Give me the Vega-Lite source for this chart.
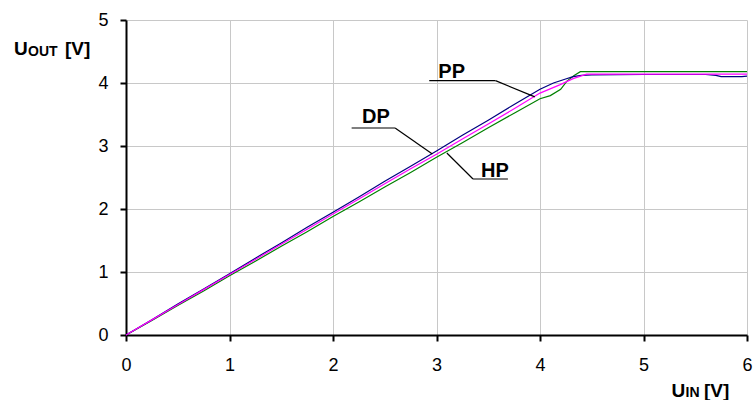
{
  "$schema": "https://vega.github.io/schema/vega-lite/v6.json",
  "width": 621,
  "height": 315,
  "autosize": "none",
  "padding": {"left": 126, "top": 20, "right": 7, "bottom": 65},
  "background": "white",
  "config": {
    "font": "Liberation Sans",
    "view": {"stroke": null},
    "axis": {
      "labelFont": "Liberation Sans",
      "labelFontSize": 18,
      "labelColor": "black",
      "labelFlush": false,
      "labelOverlap": false,
      "domainColor": "black",
      "domainWidth": 2,
      "tickColor": "black",
      "tickWidth": 2,
      "tickSize": 6,
      "gridColor": "#c8c8c8",
      "gridWidth": 1,
      "title": null,
      "format": "d"
    }
  },
  "datasets": {
    "curves": [
      {"series": "HP", "x": 0, "y": 0},
      {"series": "HP", "x": 0.25, "y": 0.23},
      {"series": "HP", "x": 0.5, "y": 0.47},
      {"series": "HP", "x": 0.75, "y": 0.70},
      {"series": "HP", "x": 1.0, "y": 0.94},
      {"series": "HP", "x": 1.25, "y": 1.17},
      {"series": "HP", "x": 1.5, "y": 1.41},
      {"series": "HP", "x": 1.75, "y": 1.64},
      {"series": "HP", "x": 2.0, "y": 1.88},
      {"series": "HP", "x": 2.25, "y": 2.11},
      {"series": "HP", "x": 2.5, "y": 2.35},
      {"series": "HP", "x": 2.75, "y": 2.58},
      {"series": "HP", "x": 3.0, "y": 2.82},
      {"series": "HP", "x": 3.25, "y": 3.05},
      {"series": "HP", "x": 3.5, "y": 3.29},
      {"series": "HP", "x": 3.75, "y": 3.52},
      {"series": "HP", "x": 4.0, "y": 3.75},
      {"series": "HP", "x": 4.1, "y": 3.80},
      {"series": "HP", "x": 4.2, "y": 3.90},
      {"series": "HP", "x": 4.26, "y": 4.03},
      {"series": "HP", "x": 4.33, "y": 4.12},
      {"series": "HP", "x": 4.39, "y": 4.18},
      {"series": "HP", "x": 5.0, "y": 4.18},
      {"series": "HP", "x": 6.0, "y": 4.18},
      {"series": "PP", "x": 0, "y": 0},
      {"series": "PP", "x": 0.25, "y": 0.24},
      {"series": "PP", "x": 0.5, "y": 0.49},
      {"series": "PP", "x": 0.75, "y": 0.73},
      {"series": "PP", "x": 1.0, "y": 0.97},
      {"series": "PP", "x": 1.25, "y": 1.22},
      {"series": "PP", "x": 1.5, "y": 1.46},
      {"series": "PP", "x": 1.75, "y": 1.71},
      {"series": "PP", "x": 2.0, "y": 1.95},
      {"series": "PP", "x": 2.25, "y": 2.19},
      {"series": "PP", "x": 2.5, "y": 2.44},
      {"series": "PP", "x": 2.75, "y": 2.68},
      {"series": "PP", "x": 3.0, "y": 2.92},
      {"series": "PP", "x": 3.25, "y": 3.17},
      {"series": "PP", "x": 3.5, "y": 3.41},
      {"series": "PP", "x": 3.75, "y": 3.66},
      {"series": "PP", "x": 4.0, "y": 3.90},
      {"series": "PP", "x": 4.13, "y": 4.00},
      {"series": "PP", "x": 4.24, "y": 4.06},
      {"series": "PP", "x": 4.32, "y": 4.10},
      {"series": "PP", "x": 4.4, "y": 4.12},
      {"series": "PP", "x": 4.5, "y": 4.13},
      {"series": "PP", "x": 5.0, "y": 4.135},
      {"series": "PP", "x": 5.6, "y": 4.135},
      {"series": "PP", "x": 5.7, "y": 4.12},
      {"series": "PP", "x": 5.75, "y": 4.10},
      {"series": "PP", "x": 5.95, "y": 4.10},
      {"series": "PP", "x": 6.0, "y": 4.11},
      {"series": "DP", "x": 0, "y": 0},
      {"series": "DP", "x": 0.25, "y": 0.24},
      {"series": "DP", "x": 0.5, "y": 0.48},
      {"series": "DP", "x": 0.75, "y": 0.72},
      {"series": "DP", "x": 1.0, "y": 0.96},
      {"series": "DP", "x": 1.25, "y": 1.20},
      {"series": "DP", "x": 1.5, "y": 1.44},
      {"series": "DP", "x": 1.75, "y": 1.68},
      {"series": "DP", "x": 2.0, "y": 1.92},
      {"series": "DP", "x": 2.25, "y": 2.16},
      {"series": "DP", "x": 2.5, "y": 2.40},
      {"series": "DP", "x": 2.75, "y": 2.64},
      {"series": "DP", "x": 3.0, "y": 2.87},
      {"series": "DP", "x": 3.25, "y": 3.11},
      {"series": "DP", "x": 3.5, "y": 3.35},
      {"series": "DP", "x": 3.75, "y": 3.59},
      {"series": "DP", "x": 4.0, "y": 3.84},
      {"series": "DP", "x": 4.19, "y": 3.97},
      {"series": "DP", "x": 4.32, "y": 4.07},
      {"series": "DP", "x": 4.45, "y": 4.14},
      {"series": "DP", "x": 5.0, "y": 4.14},
      {"series": "DP", "x": 6.0, "y": 4.14}
    ],
    "labels": [
      {"label": "PP", "x": 3.147, "y": 4.084},
      {"label": "DP", "x": 2.415, "y": 3.365},
      {"label": "HP", "x": 3.565, "y": 2.51}
    ],
    "leaders": [
      {"x": 2.93, "y": 4.037, "x2": 3.57, "y2": 4.037},
      {"x": 3.57, "y": 4.037, "x2": 3.95, "y2": 3.78},
      {"x": 2.18, "y": 3.286, "x2": 2.6, "y2": 3.286},
      {"x": 2.6, "y": 3.286, "x2": 2.96, "y2": 2.873},
      {"x": 3.1, "y": 2.889, "x2": 3.353, "y2": 2.476},
      {"x": 3.353, "y": 2.476, "x2": 3.69, "y2": 2.476}
    ],
    "titleMain": [
      {"t": "U", "x": -1.082, "y": 4.452},
      {"t": "[V]", "x": -0.589, "y": 4.452},
      {"t": "U", "x": 5.271, "y": -0.979},
      {"t": "[V]", "x": 5.585, "y": -0.979}
    ],
    "titleSub": [
      {"t": "OUT", "x": -0.947, "y": 4.429},
      {"t": "IN", "x": 5.406, "y": -0.992}
    ]
  },
  "layer": [
    {
      "data": {"name": "curves"},
      "mark": {"type": "line", "strokeWidth": 1.2},
      "encoding": {
        "x": {
          "field": "x", "type": "quantitative",
          "scale": {"domain": [0, 6], "nice": false},
          "axis": {"values": [0, 1, 2, 3, 4, 5, 6], "labelPadding": 15, "labelBaseline": "top"}
        },
        "y": {
          "field": "y", "type": "quantitative",
          "scale": {"domain": [0, 5], "nice": false},
          "axis": {"values": [0, 1, 2, 3, 4, 5], "labelPadding": 12}
        },
        "color": {
          "field": "series", "type": "nominal",
          "scale": {"domain": ["HP", "DP", "PP"], "range": ["#008000", "#ff00ff", "#000080"]},
          "legend": null
        }
      }
    },
    {
      "data": {"name": "leaders"},
      "mark": {"type": "rule", "color": "black", "strokeWidth": 1.2},
      "encoding": {
        "x": {"field": "x", "type": "quantitative"},
        "y": {"field": "y", "type": "quantitative"},
        "x2": {"field": "x2"},
        "y2": {"field": "y2"}
      }
    },
    {
      "data": {"name": "labels"},
      "mark": {"type": "text", "fontWeight": "bold", "fontSize": 20, "baseline": "alphabetic", "align": "center", "color": "black"},
      "encoding": {
        "x": {"field": "x", "type": "quantitative"},
        "y": {"field": "y", "type": "quantitative"},
        "text": {"field": "label"}
      }
    },
    {
      "data": {"name": "titleMain"},
      "mark": {"type": "text", "fontWeight": "bold", "fontSize": 19, "baseline": "alphabetic", "align": "left", "color": "black"},
      "encoding": {
        "x": {"field": "x", "type": "quantitative"},
        "y": {"field": "y", "type": "quantitative"},
        "text": {"field": "t"}
      }
    },
    {
      "data": {"name": "titleSub"},
      "mark": {"type": "text", "fontWeight": "bold", "fontSize": 14, "baseline": "alphabetic", "align": "left", "color": "black"},
      "encoding": {
        "x": {"field": "x", "type": "quantitative"},
        "y": {"field": "y", "type": "quantitative"},
        "text": {"field": "t"}
      }
    }
  ]
}
